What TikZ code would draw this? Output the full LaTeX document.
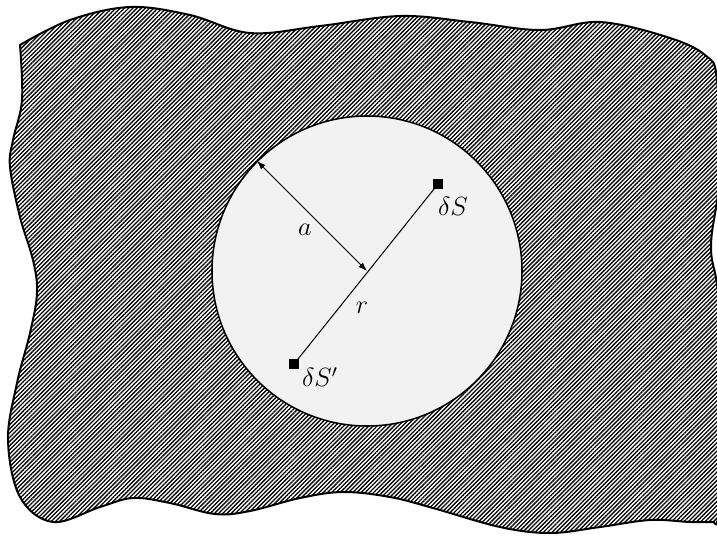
\documentclass[tikz,border=0pt]{standalone}
\usepackage{tikz}
\usetikzlibrary{arrows.meta,patterns.meta}
\definecolor{holegray}{HTML}{F2F2F2}

\begin{document}
\begin{tikzpicture}[x=0.016cm,y=-0.016cm,
  plate/.style={draw=black,line width=0.9pt,
                pattern={Lines[angle=45,distance=1.35pt,line width=0.6pt]}},
  hole/.style={draw=black,line width=0.7pt,fill=holegray},
  sq/.style={fill=black,minimum size=1.5mm,inner sep=0pt},
  lbl/.style={inner sep=1pt,font=\large},
  w/.style={{Latex[length=1.4mm,width=1mm]}-{Latex[length=1.4mm,width=1mm]},line width=0.45pt},
  link/.style={line width=0.45pt}]
\useasboundingbox (0,0) rectangle (717,535);

% ---------------- the plate, with its torn outline --------------------------
\draw[plate] plot[smooth,tension=0.6] coordinates {(20,45) (70,20) (130,7) (190,15)
    (250,33) (320,26) (400,16) (470,22) (540,30) (600,22) (667,37) (705,55)
    (717,80) (719,180) (711,247) (719,310) (719,500) (714,522)}
  -- plot[smooth,tension=0.6] coordinates {(714,522) (690,522) (650,520) (600,527)
    (550,533) (500,527) (433,508) (390,497) (343,492) (300,498) (250,511)
    (215,514) (170,503) (133,498) (100,507) (53,522) (20,497) (8,440) (17,383)
    (30,333) (37,293) (33,260) (20,217) (10,167) (13,140) (22,100) (20,45)}
  -- cycle;

% ---------------- the hole -------------------------------------------------
\coordinate (o) at (367,271);
\coordinate (rim) at (257,161);
\draw[hole] (o) circle[radius=155];

% ---------------- radius a --------------------------------------------------
\draw[w] (rim) -- (o);
\node[lbl] (la) at (305,230) {$a$};

% ---------------- the two elements and their distance r --------------------
\node[sq] (ds) at (438,184) {};
\node[sq] (dsp) at (294,364) {};
\draw[link] (dsp.center) -- (ds.center);
\node[lbl] (lds) at (453,206) {$\delta S$};
\node[lbl] (ldsp) at (320,377) {$\delta S'$};
\node[lbl] (lr) at (362,308) {$r$};

\end{tikzpicture}
\end{document}
